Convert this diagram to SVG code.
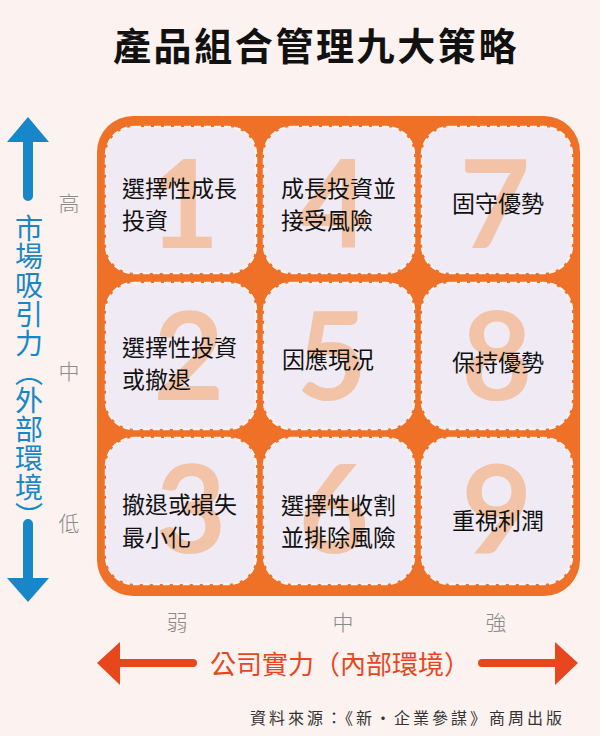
<svg xmlns="http://www.w3.org/2000/svg" width="600" height="736" viewBox="0 0 600 736">
<defs>
<style>
.cjk{font-family:"Noto Sans CJK TC","Noto Sans CJK SC",sans-serif;}
.cell{fill:#EFEAF3;stroke:#F9F2F2;stroke-width:2.5;stroke-dasharray:7 3;}
.num{font-family:Lato,"Noto Sans",sans-serif;font-weight:bold;font-size:122px;fill:#F2C3A6;text-anchor:middle;}
.lbl{font-family:"Noto Sans CJK TC","Noto Sans CJK SC",sans-serif;font-size:23px;fill:#111;}
.axis{font-family:"Noto Sans CJK TC","Noto Sans CJK SC",sans-serif;font-size:21px;fill:#8a8a8a;font-weight:300;text-anchor:middle;}
.blue{fill:#1787CA;}
.red{fill:#E8471E;}
</style>
</defs>
<rect width="600" height="736" fill="#FCF2EF"/>
<text x="316" y="60" class="cjk" font-size="38" font-weight="bold" letter-spacing="2.6" text-anchor="middle" fill="#111">產品組合管理九大策略</text>

<rect id="board" x="97" y="116" width="483" height="480" rx="36" fill="#EE7127"/>

<g id="cell1"><rect class="cell" x="106" y="127" width="150" height="146" rx="28"/><text class="num" x="184" y="248">1</text><text class="lbl" x="122" y="197">選擇性成長</text><text class="lbl" x="122" y="229">投資</text></g>
<g id="cell4"><rect class="cell" x="264" y="127" width="150" height="146" rx="28"/><text class="num" x="334" y="248">4</text><text class="lbl" x="281" y="197">成長投資並</text><text class="lbl" x="281" y="229">接受風險</text></g>
<g id="cell7"><rect class="cell" x="422" y="127" width="150" height="146" rx="28"/><text class="num" x="495" y="248">7</text><text class="lbl" x="452" y="212">固守優勢</text></g>

<g id="cell2"><rect class="cell" x="106" y="283" width="150" height="146" rx="28"/><text class="num" x="189" y="400">2</text><text class="lbl" x="122" y="356">選擇性投資</text><text class="lbl" x="122" y="388">或撤退</text></g>
<g id="cell5"><rect class="cell" x="264" y="283" width="150" height="146" rx="28"/><text class="num" x="332" y="400">5</text><text class="lbl" x="282" y="368">因應現況</text></g>
<g id="cell8"><rect class="cell" x="422" y="283" width="150" height="146" rx="28"/><text class="num" x="497" y="400">8</text><text class="lbl" x="452" y="371">保持優勢</text></g>

<g id="cell3"><rect class="cell" x="106" y="438" width="150" height="146" rx="28"/><text class="num" x="191" y="553">3</text><text class="lbl" x="122" y="513">撤退或損失</text><text class="lbl" x="122" y="546">最小化</text></g>
<g id="cell6"><rect class="cell" x="264" y="438" width="150" height="146" rx="28"/><text class="num" x="334" y="553">6</text><text class="lbl" x="281" y="514">選擇性收割</text><text class="lbl" x="281" y="546">並排除風險</text></g>
<g id="cell9"><rect class="cell" x="422" y="438" width="150" height="146" rx="28"/><text class="num" x="497" y="553">9</text><text class="lbl" x="452" y="529">重視利潤</text></g>

<g id="axis-labels">
<text class="axis" x="69" y="211">高</text>
<text class="axis" x="69" y="379">中</text>
<text class="axis" x="69" y="531">低</text>
<text class="axis" x="177" y="630">弱</text>
<text class="axis" x="343" y="630">中</text>
<text class="axis" x="496" y="630">強</text>
</g>

<g id="connectors">
<path class="blue" d="M28 117 L49 142 L33 142 L33 196 A5 5 0 0 1 23 196 L23 142 L7 142 Z"/>
<path class="blue" d="M28 602 L49 578 L33 578 L33 524 A5 5 0 0 0 23 524 L23 578 L7 578 Z"/>
<path class="red" d="M97 663 L120 642 L120 659 L193 659 A4 4 0 0 1 193 667 L120 667 L120 685 Z"/>
<path class="red" d="M578 663 L555 642 L555 659 L482 659 A4 4 0 0 0 482 667 L555 667 L555 685 Z"/>
</g>

<g id="axis-titles">
<text class="cjk blue" x="29" y="214" font-size="28" letter-spacing="0.8" style="writing-mode:vertical-rl">市場吸引力（外部環境）</text>
<text class="cjk red" x="340" y="674" font-size="26" text-anchor="middle">公司實力（內部環境）</text>
</g>

<text class="cjk" x="565" y="724" font-size="16" letter-spacing="3" text-anchor="end" fill="#333">資料來源：《新・企業參謀》商周出版</text>
</svg>
